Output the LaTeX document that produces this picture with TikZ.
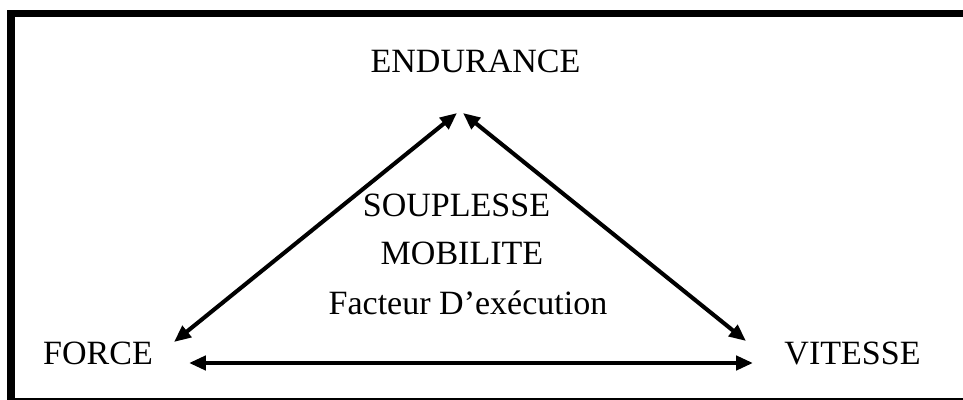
\documentclass[tikz,border=0pt]{standalone}
\usepackage{fontspec}
\setmainfont{Liberation Serif}
\usetikzlibrary{arrows.meta}
\begin{document}
\begin{tikzpicture}[x=0.025cm,y=-0.025cm,
		word/.style={anchor=base,inner sep=0pt,font=\fontsize{24.2}{29}\selectfont},
		link/.style={{Triangle[length=12pt,width=10pt]}-{Triangle[length=12pt,width=10pt]},line width=2.9pt}]
		\clip (0,0) rectangle (963,400);
		\draw[line width=5.5pt] (11,13.5) rectangle (1000,402);
		\node[word] (endurance) at (475.5,73) {ENDURANCE};
		\node[word] (force) at (98,365) {FORCE};
		\node[word] (vitesse) at (852.5,365) {VITESSE};
		\node[word] (souplesse) at (456.5,217) {SOUPLESSE};
		\node[word] (mobilite) at (462,265) {MOBILITE};
		\node[word] (facteur) at (468,315) {Facteur D’exécution};
		\coordinate (endL) at (457,113);
		\coordinate (endR) at (463,113);
		\coordinate (forceT) at (174,342);
		\coordinate (forceR) at (189,363);
		\coordinate (vitT) at (746,341);
		\coordinate (vitL) at (753,363);
		\draw[link] (forceT) -- (endL);
		\draw[link] (endR) -- (vitT);
		\draw[link] (forceR) -- (vitL);
\end{tikzpicture}
\end{document}
